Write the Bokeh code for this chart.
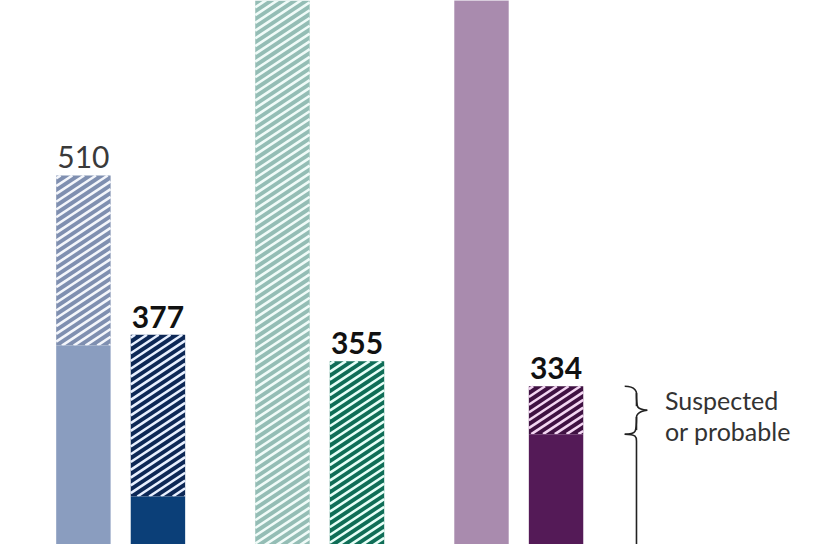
from bokeh.plotting import figure
from bokeh.models import Range1d, ColumnDataSource
from bokeh.embed import file_html
from bokeh.resources import INLINE
from bokeh.core.properties import value

# ---- data ----
bars = ["A1", "A2", "B1", "B2", "C1", "C2"]
totals = [510, 377, 720, 355, 780, 334]          # total (confirmed + suspected)
confirmed = [368, 242, 150, 180, 700, 294]       # solid (confirmed) part
labels = ["510", "377", "", "355", "", "334"]
label_bold = [False, True, False, True, False, True]
solid_colors = ["#8a9dbf", "#0b3f78", "#9fc7bf", "#0e7a62", "#a98bae", "#541a57"]
hatch_bg = ["#7f8fb0", "#0d2856", "#94bdb5", "#0f6e57", "#a98bae", "#3f1142"]
hatch_fg = ["#f4f6fb", "#e8f0ff", "#f0fbf8", "#e6fff7", "#ffffff", "#f3d6f2"]
note_lines = ["Suspected", "or probable"]

# ---- layout helpers (positions computed, not stored in data) ----
W, H = 824, 544
GROUP_GAP = 2.67
xs = [(i // 2) * GROUP_GAP + (i % 2) for i in range(len(bars))]
x0, x1 = -1.112, 9.941
y0, y1 = 201.9, 656.1
upx = (x1 - x0) / 840   # data units per reference px
upy = (y1 - y0) / 560

def to_px(x, v):
    return (x - x0) / upx, (y1 - v) / upy

def to_data(px, py):
    return x0 + px * upx, y1 - py * upy

p = figure(width=W, height=H, output_backend="svg", toolbar_location=None,
           x_range=Range1d(x0, x1), y_range=Range1d(y0, y1),
           min_border=0, outline_line_color=None)
p.axis.visible = False
p.grid.visible = False
p.background_fill_color = "white"
p.border_fill_color = "white"

BW = 0.73
# hatched (suspected) part: background
src_h = ColumnDataSource(dict(x=xs, top=totals, bottom=confirmed, bg=hatch_bg))
p.vbar(x="x", top="top", bottom="bottom", width=BW, source=src_h,
       fill_color="bg", line_color=None)

# stripes computed from each bar's rectangle (slope ~34 deg, like the original)
SLOPE = 2 / 3
PERIOD = 8.0
sx0, sy0, sx1, sy1, scol = [], [], [], [], []
for xi, t, b, col in zip(xs, totals, confirmed, hatch_fg):
    if t <= b:
        continue
    xl, yt = to_px(xi - BW / 2, t)
    xr, yb = to_px(xi + BW / 2, b)
    yt_c, yb_c = max(yt, -20), min(yb, 580)
    if yt_c >= yb_c:
        continue
    c = yt_c + 3
    while c < yb_c + SLOPE * (xr - xl):
        xa = max(xl, xl + (c - yb_c) / SLOPE)
        xb_ = min(xr, xl + (c - yt_c) / SLOPE)
        if xb_ > xa:
            ya = c - SLOPE * (xa - xl)
            yb2 = c - SLOPE * (xb_ - xl)
            d0 = to_data(xa, ya)
            d1 = to_data(xb_, yb2)
            sx0.append(d0[0]); sy0.append(d0[1]); sx1.append(d1[0]); sy1.append(d1[1])
            scol.append(col)
        c += PERIOD
p.segment(x0="x0", y0="y0", x1="x1", y1="y1", line_color="c", line_width=2.6,
          line_cap="butt",
          source=ColumnDataSource(dict(x0=sx0, y0=sy0, x1=sx1, y1=sy1, c=scol)))

# solid (confirmed) part
src_s = ColumnDataSource(dict(x=xs, top=confirmed, c=solid_colors))
p.vbar(x="x", top="top", bottom=0, width=BW, source=src_s, fill_color="c", line_color=None)

# value labels
for xi, t, lab, b in zip(xs, totals, labels, label_bold):
    if not lab:
        continue
    p.text(x=[xi], y=[t], text=[lab], text_align="center", text_baseline="alphabetic",
           y_offset=-18, text_font=value("Lato"), text_font_size="30px",
           text_font_style="bold" if b else "normal",
           text_color="#111111" if b else "#3a3a3a")

# curly brace next to last bar for the suspected part
xb = xs[-1]
top_v, bot_v = totals[-1], confirmed[-1]
mid_v = (top_v + bot_v) / 2
xl = xb + (636 - 566) * upx
xm = xb + (648 - 566) * upx
xt = xb + (659 - 566) * upx
r = 7 * upy
lc = "#222222"
p.bezier(x0=[xl, xm, xt, xm], y0=[top_v, top_v - r, mid_v, mid_v - r],
         x1=[xm, xt, xm, xl], y1=[top_v - r, mid_v, mid_v - r, bot_v],
         cx0=[xm, xm, xm, xm], cy0=[top_v, mid_v + 2 * upy, mid_v - 1 * upy, bot_v + 2 * upy],
         cx1=[xm, xm, xm, xm], cy1=[top_v - r, mid_v + 1 * upy, mid_v - r, bot_v],
         line_color=lc, line_width=1.6)
p.line(x=[xm, xm], y=[top_v - r, mid_v + r * 0.6], line_color=lc, line_width=1.6)
p.line(x=[xm, xm], y=[mid_v - r, bot_v + r * 0.6], line_color=lc, line_width=1.6)
# confirmed part: hook + long vertical line
p.bezier(x0=[xl], y0=[bot_v], x1=[xm], y1=[bot_v - r],
         cx0=[xm], cy0=[bot_v], cx1=[xm], cy1=[bot_v - r * 0.4],
         line_color=lc, line_width=1.6)
p.line(x=[xm, xm], y=[bot_v - r, 0], line_color=lc, line_width=1.6)

# note text
xtxt = xb + (677 - 566) * upx
p.text(x=[xtxt, xtxt], y=[top_v, top_v], text=note_lines, y_offset=[14, 45],
       text_baseline="alphabetic", text_align="left",
       text_font=value("Lato"), text_font_size="25px", text_font_style="normal",
       text_color="#333333")

open("out.html", "w").write(file_html(p, INLINE))
